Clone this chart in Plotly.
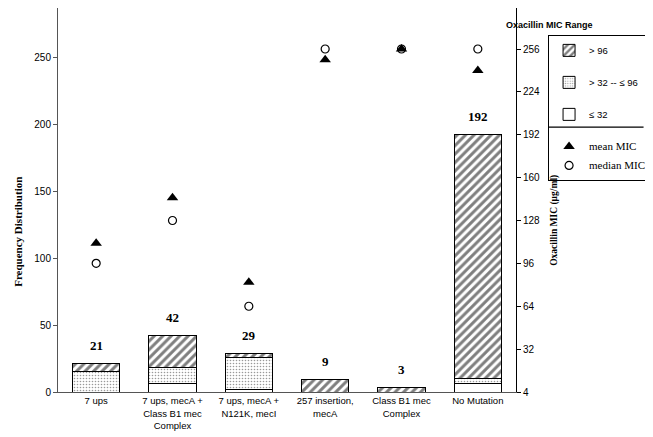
import plotly.graph_objects as go

categorias = [
    "7 ups",
    "7 ups, mecA +<br>Class B1 mec<br>Complex",
    "7 ups, mecA +<br>N121K, mecI",
    "257 insertion,<br>mecA",
    "Class B1 mec<br>Complex",
    "No Mutation",
]

bajo = [0, 6, 2, 0, 0, 6]          # <= 32
medio = [15, 12, 24, 0, 0, 4]      # > 32 -- <= 96
alto = [6, 24, 3, 9, 3, 182]       # > 96
totales = [21, 42, 29, 9, 3, 192]

media_mic = [111, 145, 82, 248, 256, 240]
mediana_mic = [96, 128, 64, 256, 256, 256]

ticks_der = [0, 32, 64, 96, 128, 160, 192, 224, 256]
textos_der = ["4", "32", "64", "96", "128", "160", "192", "224", "256"]

SANS = "Liberation Sans, Arial, sans-serif"
SERIF = "Liberation Serif, Times New Roman, serif"

fig = go.Figure()

fig.add_trace(
    go.Bar(
        x=categorias,
        y=bajo,
        name="≤ 32",
        legendrank=3,
        legendgroup="c",
        marker=dict(color="white", line=dict(color="black", width=1)),
    )
)

fig.add_trace(
    go.Bar(
        x=categorias,
        y=medio,
        name="> 32 -- ≤ 96",
        legendrank=2,
        legendgroup="b",
        marker=dict(
            color="white",
            line=dict(color="black", width=1),
            pattern=dict(shape=".", size=3, solidity=0.22, fgcolor="#333", bgcolor="white"),
        ),
    )
)

fig.add_trace(
    go.Bar(
        x=categorias,
        y=alto,
        name="> 96",
        legendrank=1,
        legendgroup="a",
        marker=dict(
            color="white",
            line=dict(color="black", width=1),
            pattern=dict(shape="/", size=6, solidity=0.5, fgcolor="black", bgcolor="white"),
        ),
    )
)

fig.add_trace(
    go.Scatter(
        x=categorias,
        y=media_mic,
        mode="markers",
        yaxis="y2",
        name="<span style='font-family:Liberation Serif;font-size:11px'>mean MIC</span>",
        legendrank=4,
        legendgroup="d",
        marker=dict(symbol="triangle-up", size=10, color="black"),
    )
)

fig.add_trace(
    go.Scatter(
        x=categorias,
        y=mediana_mic,
        mode="markers",
        yaxis="y2",
        name="<span style='font-family:Liberation Serif;font-size:11px'>median MIC</span>",
        legendrank=5,
        legendgroup="d",
        marker=dict(symbol="circle-open", size=8, color="black", line=dict(width=1.2)),
    )
)

# etiquetas de totales sobre cada barra
for cat, tot in zip(categorias, totales):
    fig.add_annotation(
        x=cat, y=tot, text="<b>%d</b>" % tot,
        showarrow=False, yanchor="middle", yshift=18,
        font=dict(family=SERIF, size=13, color="black"),
    )

fig.add_annotation(
    x=-0.105, y=0.417, xref="paper", yref="paper",
    text="<b>Frequency Distribution</b>", textangle=-90,
    showarrow=False, font=dict(family=SERIF, size=11, color="black"),
)

fig.add_annotation(
    x=1.10, y=0.323, xref="paper", yref="paper",
    text="<b>Oxacillin MIC (µg/ml)</b>", textangle=-90,
    showarrow=False, font=dict(family=SERIF, size=9.5, color="black"),
)

fig.add_annotation(
    x=1.1725, y=0.974, xref="paper", yref="paper",
    text="<b>Oxacillin MIC Range</b>",
    showarrow=False, font=dict(family=SANS, size=9, color="black"),
)

# linea separadora dentro de la leyenda (flecha sin punta)
fig.add_annotation(
    x=1.07, y=0.69, xref="paper", yref="paper",
    text="", showarrow=True, arrowhead=0, arrowwidth=1.2,
    arrowcolor="black", ax=97, ay=0, standoff=0, startstandoff=0,
)

# la pagina tiene 8 px de margen propio: se descuenta del tamano de la figura
fig.update_layout(
    barmode="stack",
    bargap=0.38,
    width=645,
    height=429,
    margin=dict(l=50, r=137, t=0, b=45, autoexpand=False),
    paper_bgcolor="white",
    plot_bgcolor="white",
    font=dict(family=SANS, size=10, color="black"),
    showlegend=True,
    legend=dict(
        x=1.07, xanchor="left",
        y=0.93, yanchor="top",
        bordercolor="black", borderwidth=1,
        bgcolor="rgba(0,0,0,0)",
        itemwidth=30,
        tracegroupgap=13,
        traceorder="grouped",
        font=dict(family=SANS, size=9.5),
    ),
    xaxis=dict(
        showline=True, linecolor="#555", linewidth=1, mirror=True,
        ticks="", tickfont=dict(family=SANS, size=9.5),
        showgrid=False,
    ),
    yaxis=dict(
        range=[0, 286.6],
        tickvals=[0, 50, 100, 150, 200, 250],
        showline=True, linecolor="#555", linewidth=1,
        ticks="outside", ticklen=4, tickcolor="#555",
        showgrid=False, zeroline=False,
        tickfont=dict(family=SANS, size=10),
    ),
    yaxis2=dict(
        range=[0, 286.6],
        overlaying="y",
        side="right",
        tickvals=ticks_der,
        ticktext=textos_der,
        showline=True, linecolor="black", linewidth=1,
        ticks="outside", ticklen=4, tickcolor="black",
        showgrid=False, zeroline=False,
        tickfont=dict(family=SANS, size=10),
    ),
)

fig.write_html("out.html")
